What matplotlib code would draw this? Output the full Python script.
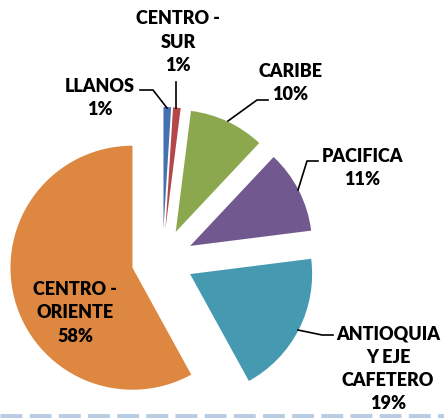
import matplotlib
matplotlib.use('Agg')
import matplotlib.pyplot as plt

# data (clockwise from 12 o'clock)
regions = ['LLANOS', 'CENTRO -\nSUR', 'CARIBE', 'PACIFICA',
           'ANTIOQUIA\nY EJE\nCAFETERO', 'CENTRO -\nORIENTE']
shares = [1, 1, 10, 11, 19, 58]
colors = ['#4472B0', '#B3474A', '#8CA84F', '#71598F', '#4599B1', '#DD8741']

W, H = 444, 418

plt.rcParams['font.family'] = ['Lato', 'DejaVu Sans']

fig = plt.figure(figsize=(W / 100, H / 100), dpi=100)
ax = fig.add_axes([0, 0, 1, 1])

# pie center / radius in pixel units (y up); explode is absolute here
cx, cy, r = 162.5, H - 260, 122
ax.pie(shares, colors=colors, startangle=90, counterclock=False,
       explode=[31] * len(shares), center=(cx, cy), radius=r,
       wedgeprops=dict(linewidth=0))

ax.set_xlim(0, W)
ax.set_ylim(0, H)
ax.set_aspect('auto')
ax.axis('off')

# label centers (screen px) and leader lines
label_pos = [(100, 98), (178, 42), (290, 83), (362, 168), (388, 369), (75, 313)]
leaders = [
    [(140, 90), (153, 90), (167, 108)],
    [(176, 82), (176, 108)],
    [(268, 100), (257, 100), (228, 121)],
    [(318, 161), (307, 161), (298, 190)],
    [(333, 335), (322, 335), (298, 330)],
    None,
]

for name, v, (lx, ly), ld in zip(regions, shares, label_pos, leaders):
    ax.text(lx, H - ly, '%s\n%d%%' % (name, v), ha='center', va='center',
            fontsize=13, fontweight='heavy', color='black', linespacing=1.45)
    if ld:
        ax.plot([p[0] for p in ld], [H - p[1] for p in ld], color='black', lw=1.2)

# dashed border at bottom
ax.plot([0, W], [H - 416, H - 416], color='#B8CCE4', lw=3.5,
        dashes=(4.5, 1.5), solid_capstyle='butt')

fig.savefig('out.png', dpi=100)
